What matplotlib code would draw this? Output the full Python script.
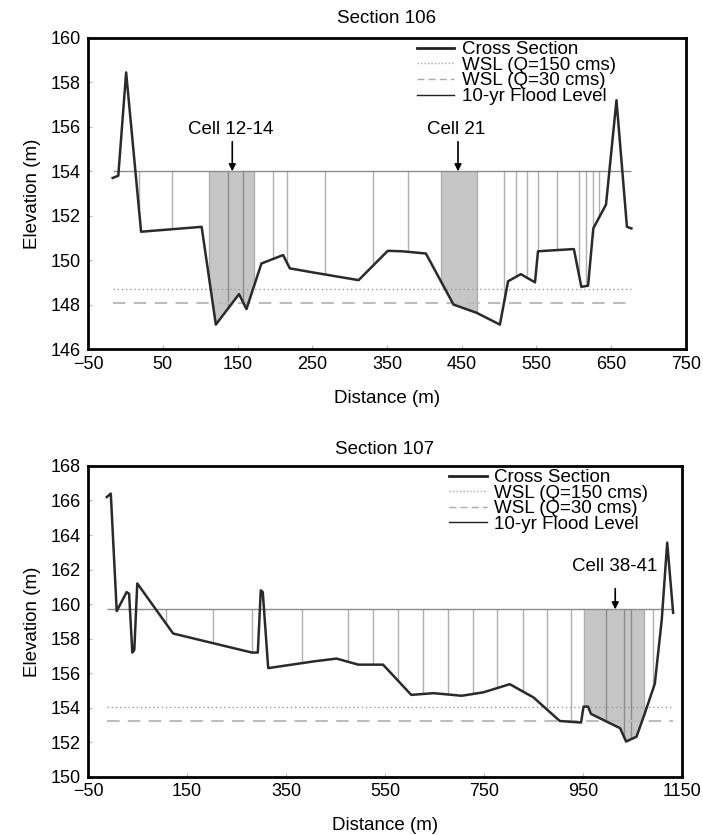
import numpy as np
import matplotlib
matplotlib.use('Agg')
import matplotlib.pyplot as plt
from matplotlib.lines import Line2D

plt.rcParams['font.family'] = ['Liberation Sans', 'DejaVu Sans']
plt.rcParams['axes.unicode_minus'] = True

# Section 106 ground profile
dist_106 = [-17, -9.5, 1, 21, 102, 121, 152, 162, 182, 211, 220, 254, 312, 351, 370,
            402, 439, 470, 501, 512, 529, 548, 552, 600, 610, 619, 626, 643, 657, 671, 677]
elev_106 = [153.7, 153.8, 158.45, 151.28, 151.5, 147.1, 148.47, 147.8, 149.85, 150.23, 149.63,
            149.43, 149.1, 150.42, 150.4, 150.3, 148.0, 147.63, 147.1, 149.05, 149.37, 149.0,
            150.4, 150.5, 148.8, 148.85, 151.43, 152.5, 157.2, 151.5, 151.43]
flood_106 = 154.0
wsl150_106 = 148.7
wsl30_106 = 148.05
cells_106 = [18, 62, 112, 137, 157, 172, 197, 216, 267, 331, 378, 422, 470,
             507, 522, 537, 552, 578, 607, 616, 625, 634]
shade_106 = [(112, 172), (422, 470)]
notes_106 = [('Cell 12-14', 143), ('Cell 21', 445)]

# Section 107 ground profile
dist_107 = [-12, -4, 8, 28, 33, 39.5, 43.5, 49.5, 122, 281, 293, 299, 303, 314, 409, 452,
            496, 546, 603, 648, 705, 749, 802, 850, 903, 946, 951, 960, 966, 1025, 1037,
            1058, 1075, 1095, 1109, 1120, 1132]
elev_107 = [166.2, 166.4, 159.6, 160.7, 160.6, 157.2, 157.35, 161.2, 158.3, 157.2, 157.2,
            160.8, 160.7, 156.3, 156.7, 156.85, 156.5, 156.5, 154.75, 154.85, 154.7, 154.9,
            155.37, 154.6, 153.24, 153.15, 154.07, 154.07, 153.65, 152.82, 152.05, 152.33,
            153.7, 155.4, 159.1, 163.56, 159.5]
flood_107 = 159.7
wsl150_107 = 154.07
wsl30_107 = 153.25
cells_107 = [108, 202, 282, 382, 476, 525, 576, 626, 677, 728, 777, 828, 878, 926,
             952, 997, 1032, 1047, 1073, 1091]
shade_107 = [(952, 1073)]
notes_107 = [('Cell 38-41', 1015)]

legend_labels = ['Cross Section', 'WSL (Q=150 cms)', 'WSL (Q=30 cms)', '10-yr Flood Level']


def draw_section(ax, dist, elev, flood, wsl150, wsl30, cells, shades, notes, title,
                 xlim, xticks, ylim, yticks, note_dy, leg_x, pads):
    dist = np.array(dist)
    elev = np.array(elev)
    x0, x1 = dist[0], dist[-1]

    # shaded cells (curve up to flood level)
    for lo, hi in shades:
        xs = np.linspace(lo, hi, 300)
        ys = np.minimum(np.interp(xs, dist, elev), flood)
        ax.fill_between(xs, ys, flood, color='#c6c6c6', lw=0, zorder=1)

    # cell boundaries
    inside = [c for c in cells if any(lo < c < hi for lo, hi in shades)]
    outside = [c for c in cells if c not in inside]
    ax.vlines(outside, np.interp(outside, dist, elev), flood, color='#b0b0b0', lw=1, zorder=2)
    ax.vlines(inside, np.interp(inside, dist, elev), flood, color='#8a8a8a', lw=1, zorder=2)

    ax.hlines(flood, x0, x1, color='#8c8c8c', lw=1, zorder=2)
    ax.hlines(wsl150, x0, x1, color='#999999', lw=1, linestyles=[(0, (1, 2))], zorder=2)
    ax.hlines(wsl30, x0, x1, color='#bdbdbd', lw=1.5, linestyles=[(0, (6, 4))], zorder=2)
    ax.plot(dist, elev, color='#2a2a2a', lw=1.8, zorder=3)

    for txt, xn in notes:
        ax.annotate('', xy=(xn, flood), xytext=(xn, flood + note_dy[0]),
                    arrowprops=dict(arrowstyle='-|>', color='black', lw=1.2,
                                    mutation_scale=10, shrinkA=0, shrinkB=0), zorder=4)
        ax.text(xn - 2, flood + note_dy[1], txt, ha='center', va='baseline', fontsize=13.5)

    handles = [Line2D([], [], color='#222222', lw=2),
               Line2D([], [], color='#aaaaaa', lw=1, ls=(0, (1, 1.5))),
               Line2D([], [], color='#aaaaaa', lw=1, ls=(0, (5, 3))),
               Line2D([], [], color='#222222', lw=1)]
    ax.legend(handles, legend_labels, loc='upper left', bbox_to_anchor=(leg_x, 0.99),
              frameon=False, borderpad=0, borderaxespad=0, handlelength=2.0,
              handletextpad=0.4, labelspacing=-0.08, fontsize=13.5)

    tick_pad, label_pad, title_pad = pads
    ax.set_xlim(xlim)
    ax.set_ylim(ylim)
    ax.set_xticks(xticks)
    ax.set_yticks(yticks)
    ax.tick_params(direction='in', length=3, color='#bbbbbb', labelsize=13)
    ax.tick_params(axis='x', pad=tick_pad)
    ax.tick_params(axis='y', pad=5)
    ax.set_xlabel('Distance (m)', fontsize=13.5, labelpad=label_pad)
    ax.set_ylabel('Elevation (m)', fontsize=13.5, labelpad=7)
    ax.set_title(title, fontsize=13.5, pad=title_pad)
    for sp in ax.spines.values():
        sp.set_linewidth(2)
        sp.set_color('black')


fig = plt.figure(figsize=(7.03, 8.35), dpi=100)
ax1 = fig.add_axes([0.1252, 0.582, 0.8506, 0.3725])
ax2 = fig.add_axes([0.1252, 0.0695, 0.845, 0.3725])

draw_section(ax1, dist_106, elev_106, flood_106, wsl150_106, wsl30_106, cells_106,
             shade_106, notes_106, 'Section 106', (-50, 750), np.arange(-50, 751, 100),
             (146, 160), np.arange(146, 161, 2), (1.33, 1.7), 0.55, (5, 12, 11))
draw_section(ax2, dist_107, elev_107, flood_107, wsl150_107, wsl30_107, cells_107,
             shade_107, notes_107, 'Section 107', (-50, 1150), np.arange(-50, 1151, 200),
             (150, 168), np.arange(150, 169, 2), (1.2, 2.2), 0.608, (4.5, 12, 8.5))

fig.savefig('out.png', dpi=100)
